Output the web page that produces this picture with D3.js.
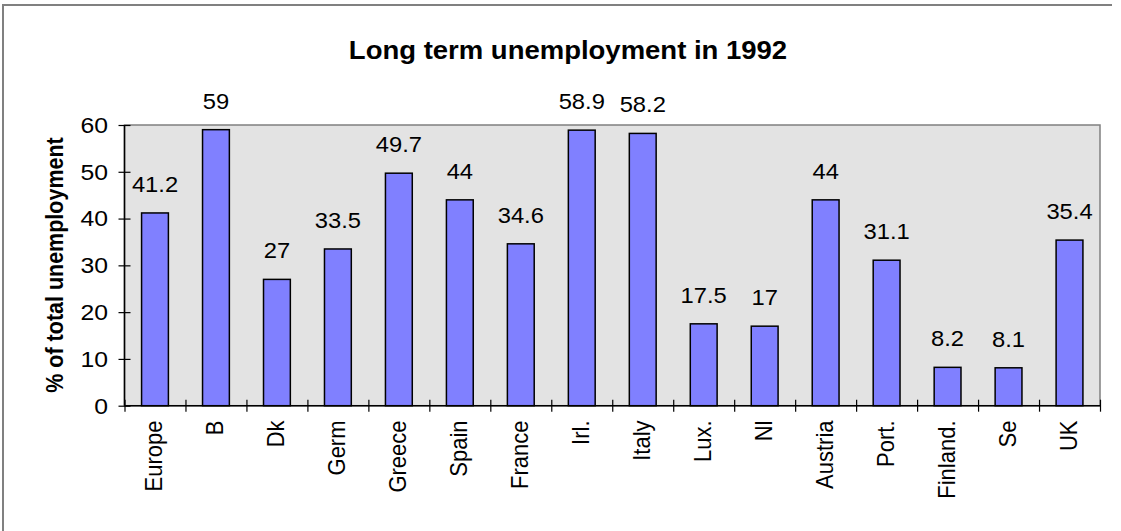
<!DOCTYPE html>
<html>
<head>
<meta charset="utf-8">
<script src="https://cdn.jsdelivr.net/npm/d3@7"></script>
<style>
  body { margin: 0; background: #fff; }
  svg { display: block; font-family: "Liberation Sans", Arial, sans-serif; }
</style>
</head>
<body>
<svg id="chart"></svg>
<script>
// data
const countries = ["Europe", "B", "Dk", "Germ", "Greece", "Spain", "France", "Irl.", "Italy",
                   "Lux.", "Nl", "Austria", "Port.", "Finland.", "Se", "UK"];
const values = [41.2, 59, 27, 33.5, 49.7, 44, 34.6, 58.9, 58.2, 17.5, 17, 44, 31.1, 8.2, 8.1, 35.4];
const yTicks = [0, 10, 20, 30, 40, 50, 60];
const chartTitle = "Long term unemployment in 1992";
const yTitle = "% of total unemployment";

const data = countries.map((c, i) => ({ country: c, value: values[i] }));

// layout
let config = { svg: {}, plot: {} };
config.svg.width = 1121;
config.svg.height = 531;
config.plot.left = 124.5;
config.plot.right = 1100;
config.plot.top = 125;
config.plot.bottom = 405.7;

const stretch = 1.08; // the source chart is a bit wider than tall, text looks stretched
const fs = 22;

let svg = d3.select("#chart")
  .attr("width", config.svg.width)
  .attr("height", config.svg.height);

// outer frame (only top and left visible)
svg.append("path")
  .attr("d", "M3,531V5H1112")
  .attr("fill", "none")
  .attr("stroke", "#808080")
  .attr("stroke-width", 2);

let x = d3.scaleBand()
  .domain(countries)
  .range([config.plot.left, config.plot.right])
  .paddingInner(0.56)
  .paddingOuter(0.28);

// boundaries between categories, for the tick marks
let xEdge = d3.scaleLinear()
  .domain([0, countries.length])
  .range([config.plot.left, config.plot.right]);

let y = d3.scaleLinear()
  .domain([0, 60])
  .range([config.plot.bottom, config.plot.top]);

// plot area
svg.append("rect")
  .attr("x", config.plot.left)
  .attr("y", config.plot.top)
  .attr("width", config.plot.right - config.plot.left)
  .attr("height", config.plot.bottom - config.plot.top)
  .attr("fill", "#e3e3e3")
  .attr("stroke", "#808080")
  .attr("stroke-width", 1.5);

// title
svg.append("text")
  .attr("transform", `translate(568, 59) scale(1.1,1)`)
  .attr("text-anchor", "middle")
  .style("font-weight", "bold")
  .style("font-size", "25px")
  .text(chartTitle);

// y axis title
svg.append("text")
  .attr("transform", `translate(63, 265) scale(${stretch},1) rotate(-90)`)
  .attr("text-anchor", "middle")
  .style("font-weight", "bold")
  .style("font-size", "21.5px")
  .text(yTitle);

// bars
svg.append("g")
  .selectAll("rect")
  .data(data)
  .enter()
  .append("rect")
  .attr("x", d => x(d.country))
  .attr("y", d => y(d.value))
  .attr("width", x.bandwidth())
  .attr("height", d => y(0) - y(d.value))
  .attr("fill", "#8080ff")
  .attr("stroke", "#000")
  .attr("stroke-width", 1.5);

// value labels
svg.append("g")
  .selectAll("text")
  .data(data)
  .enter()
  .append("text")
  .attr("transform", d => `translate(${x(d.country) + x.bandwidth() / 2}, ${y(d.value) - 21}) scale(${stretch},1)`)
  .attr("text-anchor", "middle")
  .style("font-size", fs + "px")
  .text(d => d.value);

// y axis (ticks cross the line)
let yaxis = d3.axisLeft(y)
  .tickValues(yTicks)
  .tickSizeInner(12)
  .tickSizeOuter(0)
  .tickFormat("");

let yg = svg.append("g")
  .attr("transform", `translate(${config.plot.left + 6}, 0)`)
  .call(yaxis);
yg.select(".domain").remove();
yg.selectAll("line").attr("stroke", "#000").attr("stroke-width", 1.2);

svg.append("line")
  .attr("x1", config.plot.left).attr("x2", config.plot.left)
  .attr("y1", config.plot.top).attr("y2", config.plot.bottom)
  .attr("stroke", "#000").attr("stroke-width", 1.5);

svg.append("g")
  .selectAll("text")
  .data(yTicks)
  .enter()
  .append("text")
  .attr("transform", d => `translate(108, ${y(d)}) scale(1.1,1)`)
  .attr("text-anchor", "end")
  .attr("dy", "0.35em")
  .style("font-size", "22.5px")
  .text(d => d);

// x axis
let xaxis = d3.axisBottom(xEdge)
  .tickValues(d3.range(0, countries.length + 1))
  .tickSizeInner(12)
  .tickSizeOuter(0)
  .tickFormat("");

let xg = svg.append("g")
  .attr("transform", `translate(0, ${config.plot.bottom - 6})`)
  .call(xaxis);
xg.select(".domain").remove();
xg.selectAll("line").attr("stroke", "#000").attr("stroke-width", 1.2);

svg.append("line")
  .attr("x1", config.plot.left).attr("x2", config.plot.right)
  .attr("y1", config.plot.bottom).attr("y2", config.plot.bottom)
  .attr("stroke", "#000").attr("stroke-width", 1.5);

// category labels, rotated
svg.append("g")
  .selectAll("text")
  .data(countries)
  .enter()
  .append("text")
  .attr("transform", d => `translate(${x(d) + x.bandwidth() / 2}, 420.5) scale(${stretch},1) rotate(-90)`)
  .attr("text-anchor", "end")
  .attr("dy", "0.3em")
  .style("font-size", fs + "px")
  .text(d => d);
</script>
</body>
</html>
